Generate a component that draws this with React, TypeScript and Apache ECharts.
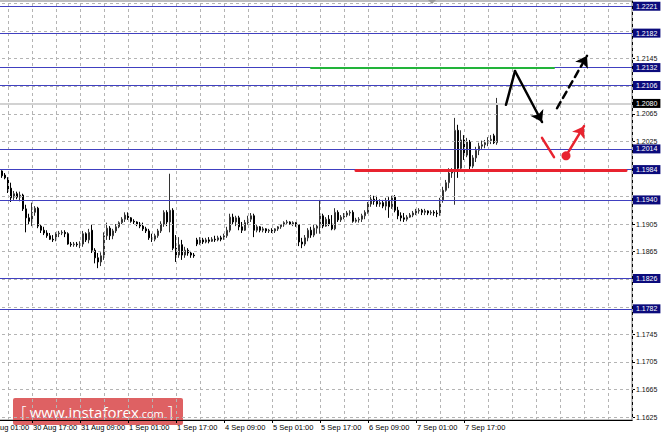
import React, { useEffect, useRef } from "react";
import * as echarts from "echarts";

// ---------- data ----------
const START_UTC = Date.UTC(2017, 7, 30, 1); // first hourly bar: 30 Aug 01:00
const CATEGORY_COUNT = 217; // bars + empty future space
const MONTHS = ["Jan", "Feb", "Mar", "Apr", "May", "Jun", "Jul", "Aug", "Sep", "Oct", "Nov", "Dec"];

const timeTickLabels = [
  "30 Aug 01:00", "30 Aug 17:00", "31 Aug 09:00", "1 Sep 01:00", "1 Sep 17:00",
  "4 Sep 09:00", "5 Sep 01:00", "5 Sep 17:00", "6 Sep 09:00", "7 Sep 01:00", "7 Sep 17:00",
];

// [open, close, low, high] – EURUSD H1
const candles: number[][] = [
  [1.1983, 1.1986, 1.1979, 1.1991], [1.1986, 1.1983, 1.1981, 1.1989], [1.1983, 1.1988, 1.1981, 1.1991],
  [1.1988, 1.1982, 1.1979, 1.1989], [1.1982, 1.1985, 1.1979, 1.1988], [1.1985, 1.1981, 1.1978, 1.1986],
  [1.1982, 1.1975, 1.1972, 1.1983], [1.1976, 1.1972, 1.1970, 1.1979], [1.1972, 1.1954, 1.1950, 1.1973],
  [1.1957, 1.1943, 1.1937, 1.1965], [1.1944, 1.1949, 1.1940, 1.1953], [1.1949, 1.1944, 1.1941, 1.1952],
  [1.1944, 1.1947, 1.1938, 1.1952], [1.1947, 1.1927, 1.1924, 1.1949], [1.1927, 1.1914, 1.1893, 1.1933],
  [1.1914, 1.1909, 1.1905, 1.1920], [1.1908, 1.1922, 1.1902, 1.1936], [1.1922, 1.1928, 1.1917, 1.1931],
  [1.1928, 1.1902, 1.1899, 1.1930], [1.1902, 1.1896, 1.1892, 1.1904], [1.1896, 1.1892, 1.1889, 1.1901],
  [1.1892, 1.1888, 1.1885, 1.1896], [1.1888, 1.1883, 1.1882, 1.1892], [1.1883, 1.1882, 1.1879, 1.1889],
  [1.1882, 1.1891, 1.1880, 1.1893], [1.1891, 1.1892, 1.1886, 1.1895], [1.1892, 1.1893, 1.1889, 1.1896],
  [1.1893, 1.1891, 1.1886, 1.1896], [1.1891, 1.1876, 1.1875, 1.1893], [1.1876, 1.1875, 1.1872, 1.1879],
  [1.1875, 1.1876, 1.1872, 1.1879], [1.1876, 1.1875, 1.1872, 1.1879], [1.1875, 1.1876, 1.1870, 1.1880],
  [1.1876, 1.1891, 1.1872, 1.1895], [1.1891, 1.1882, 1.1879, 1.1893], [1.1882, 1.1893, 1.1877, 1.1898],
  [1.1896, 1.1867, 1.1863, 1.1904], [1.1867, 1.1856, 1.1848, 1.1870], [1.1856, 1.1850, 1.1841, 1.1863],
  [1.1850, 1.1859, 1.1844, 1.1864], [1.1859, 1.1888, 1.1853, 1.1893], [1.1888, 1.1899, 1.1882, 1.1907],
  [1.1899, 1.1888, 1.1882, 1.1902], [1.1888, 1.1895, 1.1883, 1.1898], [1.1895, 1.1901, 1.1892, 1.1905],
  [1.1901, 1.1907, 1.1899, 1.1909], [1.1907, 1.1912, 1.1905, 1.1915], [1.1912, 1.1918, 1.1908, 1.1922],
  [1.1918, 1.1914, 1.1911, 1.1922], [1.1914, 1.1909, 1.1907, 1.1915], [1.1909, 1.1908, 1.1905, 1.1912],
  [1.1908, 1.1905, 1.1902, 1.1909], [1.1905, 1.1902, 1.1899, 1.1908], [1.1902, 1.1898, 1.1895, 1.1907],
  [1.1898, 1.1895, 1.1892, 1.1901], [1.1895, 1.1885, 1.1882, 1.1898], [1.1885, 1.1883, 1.1879, 1.1891],
  [1.1883, 1.1888, 1.1880, 1.1891], [1.1888, 1.1895, 1.1885, 1.1898], [1.1895, 1.1905, 1.1892, 1.1909],
  [1.1905, 1.1922, 1.1901, 1.1925], [1.1922, 1.1908, 1.1902, 1.1925], [1.1908, 1.1925, 1.1893, 1.1978],
  [1.1925, 1.1870, 1.1867, 1.1928], [1.1870, 1.1860, 1.1850, 1.1889], [1.1860, 1.1875, 1.1856, 1.1886],
  [1.1875, 1.1860, 1.1853, 1.1882], [1.1860, 1.1867, 1.1856, 1.1872], [1.1867, 1.1863, 1.1859, 1.1870],
  [1.1863, 1.1860, 1.1856, 1.1866], [1.1860, 1.1859, 1.1856, 1.1863],
  // Monday 4 Sep
  [1.1882, 1.1876, 1.1873, 1.1885], [1.1876, 1.1882, 1.1875, 1.1886], [1.1882, 1.1879, 1.1876, 1.1885],
  [1.1879, 1.1882, 1.1877, 1.1885], [1.1882, 1.1880, 1.1877, 1.1886], [1.1880, 1.1883, 1.1879, 1.1886],
  [1.1883, 1.1882, 1.1879, 1.1888], [1.1882, 1.1885, 1.1880, 1.1888], [1.1885, 1.1883, 1.1880, 1.1888],
  [1.1883, 1.1888, 1.1882, 1.1891], [1.1888, 1.1896, 1.1885, 1.1901], [1.1896, 1.1915, 1.1893, 1.1920],
  [1.1915, 1.1908, 1.1905, 1.1920], [1.1908, 1.1914, 1.1902, 1.1917], [1.1914, 1.1901, 1.1896, 1.1917],
  [1.1901, 1.1896, 1.1892, 1.1908], [1.1896, 1.1907, 1.1895, 1.1911], [1.1907, 1.1912, 1.1904, 1.1917],
  [1.1912, 1.1917, 1.1908, 1.1921], [1.1917, 1.1896, 1.1886, 1.1920], [1.1896, 1.1901, 1.1893, 1.1905],
  [1.1901, 1.1896, 1.1893, 1.1902], [1.1896, 1.1898, 1.1893, 1.1901], [1.1898, 1.1895, 1.1892, 1.1899],
  [1.1895, 1.1896, 1.1892, 1.1898], [1.1896, 1.1895, 1.1892, 1.1899], [1.1895, 1.1898, 1.1892, 1.1899],
  [1.1898, 1.1901, 1.1895, 1.1902], [1.1901, 1.1904, 1.1898, 1.1905], [1.1904, 1.1907, 1.1901, 1.1909],
  [1.1907, 1.1908, 1.1904, 1.1911], [1.1908, 1.1905, 1.1904, 1.1909], [1.1905, 1.1907, 1.1902, 1.1909],
  [1.1907, 1.1904, 1.1901, 1.1908], [1.1904, 1.1879, 1.1873, 1.1905], [1.1879, 1.1876, 1.1870, 1.1885],
  [1.1876, 1.1885, 1.1873, 1.1889], [1.1885, 1.1896, 1.1880, 1.1899], [1.1896, 1.1889, 1.1885, 1.1901],
  [1.1889, 1.1899, 1.1886, 1.1904], [1.1899, 1.1902, 1.1891, 1.1904], [1.1902, 1.1917, 1.1891, 1.1940],
  [1.1917, 1.1902, 1.1899, 1.1920], [1.1902, 1.1912, 1.1901, 1.1915], [1.1912, 1.1905, 1.1902, 1.1918],
  [1.1905, 1.1898, 1.1896, 1.1918], [1.1898, 1.1922, 1.1896, 1.1928], [1.1922, 1.1911, 1.1908, 1.1925],
  [1.1911, 1.1915, 1.1908, 1.1918], [1.1915, 1.1918, 1.1912, 1.1921], [1.1918, 1.1921, 1.1915, 1.1924],
  [1.1921, 1.1922, 1.1917, 1.1925], [1.1922, 1.1909, 1.1907, 1.1925], [1.1909, 1.1911, 1.1907, 1.1914],
  [1.1911, 1.1912, 1.1907, 1.1915], [1.1912, 1.1917, 1.1908, 1.1920], [1.1917, 1.1922, 1.1912, 1.1925],
  [1.1922, 1.1934, 1.1920, 1.1937], [1.1934, 1.1941, 1.1930, 1.1947], [1.1941, 1.1938, 1.1933, 1.1946],
  [1.1938, 1.1934, 1.1930, 1.1946], [1.1934, 1.1936, 1.1930, 1.1941], [1.1936, 1.1931, 1.1928, 1.1940],
  [1.1931, 1.1938, 1.1925, 1.1943], [1.1938, 1.1930, 1.1914, 1.1944], [1.1930, 1.1944, 1.1927, 1.1946],
  [1.1944, 1.1925, 1.1922, 1.1947], [1.1925, 1.1917, 1.1912, 1.1930], [1.1917, 1.1914, 1.1909, 1.1922],
  [1.1914, 1.1912, 1.1908, 1.1921], [1.1912, 1.1915, 1.1909, 1.1918], [1.1915, 1.1918, 1.1914, 1.1921],
  [1.1918, 1.1921, 1.1915, 1.1924], [1.1921, 1.1924, 1.1918, 1.1927], [1.1924, 1.1925, 1.1920, 1.1928],
  [1.1925, 1.1922, 1.1918, 1.1927], [1.1922, 1.1924, 1.1918, 1.1927], [1.1924, 1.1921, 1.1918, 1.1925],
  [1.1921, 1.1922, 1.1918, 1.1925], [1.1922, 1.1921, 1.1917, 1.1925], [1.1921, 1.1920, 1.1915, 1.1925],
  [1.1920, 1.1940, 1.1917, 1.1943], [1.1940, 1.1954, 1.1936, 1.1959], [1.1954, 1.1965, 1.1952, 1.1969],
  [1.1965, 1.1979, 1.1957, 1.1986], [1.1979, 1.1981, 1.1972, 1.1986], [1.1981, 1.2041, 1.1933, 1.2059],
  [1.2041, 1.1986, 1.1972, 1.2049], [1.1986, 1.2027, 1.1983, 1.2041], [1.2027, 1.2005, 1.1998, 1.2034],
  [1.2005, 1.2024, 1.2002, 1.2030], [1.2024, 1.1989, 1.1983, 1.2027], [1.1989, 1.2001, 1.1986, 1.2005],
  [1.2001, 1.2012, 1.1995, 1.2017], [1.2012, 1.2018, 1.2005, 1.2023], [1.2018, 1.2020, 1.2014, 1.2026],
  [1.2020, 1.2023, 1.2015, 1.2027], [1.2023, 1.2026, 1.2018, 1.2031], [1.2026, 1.2028, 1.2021, 1.2034],
  [1.2033, 1.2023, 1.2021, 1.2036], [1.2023, 1.2080, 1.2020, 1.2088],
];

const gridPrices = [
  1.1625, 1.1665, 1.1705, 1.1745, 1.1785, 1.1825, 1.1865, 1.1905,
  1.1945, 1.1985, 1.2025, 1.2065, 1.2105, 1.2145, 1.2185, 1.2225,
];
const labelledGridPrices = [1.1625, 1.1665, 1.1705, 1.1745, 1.1865, 1.1905, 1.2025, 1.2065, 1.2145];
const levelPrices = [1.2221, 1.2182, 1.2132, 1.2106, 1.2014, 1.1984, 1.194, 1.1826, 1.1782];
const currentPrice = 1.208;

// annotation drawings: [bar index, price]
const greenLine = [[109, 1.2132], [190, 1.2132]];
const redLine = [[124, 1.1983], [214, 1.1983]];
const blackPath = [[174, 1.2078], [177, 1.2127], [186, 1.2053]];
const blackDashed = [[191, 1.2073], [201, 1.2149]];
const redStroke = [[186, 1.203], [190, 1.2002]];
const redArrow = [[194, 1.2004], [200, 1.2047]];
const redDot = [194, 1.2004];

const Y_MIN = 1.16207;
const Y_MAX = 1.22286;
const FONT = "Liberation Sans";
const GRID_STYLE = { color: "#b4b4b4", type: [3, 3], width: 1 };

function buildCategories(): string[] {
  const out: string[] = [];
  let t = START_UTC;
  while (out.length < CATEGORY_COUNT) {
    const d = new Date(t);
    const wd = d.getUTCDay();
    if (wd !== 0 && wd !== 6) {
      const hh = String(d.getUTCHours()).padStart(2, "0");
      out.push(`${d.getUTCDate()} ${MONTHS[d.getUTCMonth()]} ${hh}:00`);
    }
    t += 3600000;
  }
  return out;
}

function segments(pts: number[][], arrowEnd: boolean) {
  const res: any[] = [];
  for (let k = 0; k < pts.length - 1; k++) {
    const last = k === pts.length - 2;
    res.push([
      { coord: pts[k], symbol: "none" },
      { coord: pts[k + 1], symbol: arrowEnd && last ? "arrow" : "none", symbolSize: 11 },
    ]);
  }
  return res;
}

function drawSeries(name: string, pts: number[][], color: string, width: number, type: any, arrow: boolean, z: number) {
  return {
    type: "line",
    name,
    data: [],
    z,
    silent: true,
    markLine: {
      silent: true,
      animation: false,
      precision: 6,
      symbol: ["none", "none"],
      label: { show: false },
      lineStyle: { color, width, type, cap: "round" },
      emphasis: { disabled: true },
      data: segments(pts, arrow),
    },
  };
}

function refLines(name: string, items: any[], lineStyle: any, z: number) {
  return {
    type: "line",
    name,
    data: [],
    z,
    silent: true,
    markLine: {
      silent: true,
      animation: false,
      precision: 6,
      symbol: ["none", "none"],
      label: { show: false },
      emphasis: { disabled: true },
      lineStyle,
      data: items,
    },
  };
}

export default function App() {
  const ref = useRef<HTMLDivElement>(null);

  useEffect(() => {
    if (!ref.current) return;
    const chart = echarts.init(ref.current, undefined, { renderer: "svg" });
    const categories = buildCategories();
    const levelSet = new Set(levelPrices.map((v) => v.toFixed(4)));
    const verticalGrid = categories
      .map((c, i) => ({ c, i }))
      .filter((o) => o.i % 8 === 0)
      .map((o) => ({ xAxis: o.c }));

    const option: any = {
      animation: false,
      textStyle: { fontFamily: FONT },
      grid: {
        left: -16,
        right: 32,
        top: 1,
        bottom: 15,
        outerBoundsMode: "none",
        containLabel: false,
        show: true,
        borderColor: "#7a7a7a",
        borderWidth: 1,
      },
      xAxis: {
        type: "category",
        data: categories,
        boundaryGap: false,
        axisLine: { show: true, lineStyle: { color: "#000", width: 1 } },
        axisTick: {
          show: true,
          length: 3,
          interval: (_i: number, v: string) => timeTickLabels.includes(v),
          lineStyle: { color: "#000" },
        },
        axisLabel: {
          interval: (_i: number, v: string) => timeTickLabels.includes(v),
          align: "left",
          margin: 3,
          fontSize: 7.5,
          fontFamily: FONT,
          color: "#000",
          padding: [0, 0, 0, 1],
        },
        splitLine: { show: false },
      },
      yAxis: {
        type: "value",
        position: "right",
        min: Y_MIN,
        max: Y_MAX,
        scale: true,
        axisLine: { show: true, lineStyle: { color: "#000", width: 1 } },
        axisTick: { show: true, length: 3, customValues: labelledGridPrices, lineStyle: { color: "#000" } },
        splitLine: { show: false },
        axisLabel: {
          customValues: [...labelledGridPrices, ...levelPrices, currentPrice],
          margin: 1,
          fontSize: 7,
          fontFamily: FONT,
          formatter: (v: number) => {
            const s = v.toFixed(4);
            if (levelSet.has(s)) return `{lv|${s}}`;
            if (s === currentPrice.toFixed(4)) return `{cur|${s}}`;
            return `{pl|${s}}`;
          },
          rich: {
            lv: { backgroundColor: "#0b0b7c", color: "#fff", padding: [1, 3, 1, 3], fontSize: 7, fontFamily: FONT },
            cur: { backgroundColor: "#000", color: "#fff", padding: [1, 3, 1, 3], fontSize: 7, fontFamily: FONT },
            pl: { color: "#111", padding: [1, 3, 1, 3], fontSize: 7, fontFamily: FONT },
          },
        },
      },
      series: [
        refLines("hgrid", gridPrices.map((v) => ({ yAxis: v })), GRID_STYLE, 1),
        refLines("vgrid", verticalGrid, GRID_STYLE, 1),
        refLines("bid", [{ yAxis: currentPrice }], { color: "#d2d2d2", type: "solid", width: 2 }, 1),
        {
          type: "candlestick",
          name: "EURUSD",
          data: candles,
          barWidth: 2,
          z: 2,
          itemStyle: {
            color: "#ffffff",
            color0: "#000000",
            borderColor: "#333333",
            borderColor0: "#000000",
            borderWidth: 1,
          },
        },
        refLines("levels", levelPrices.map((v) => ({ yAxis: v })), { color: "#4040c0", type: "solid", width: 1 }, 3),
        drawSeries("green", greenLine, "#22b43a", 2, "solid", false, 4),
        drawSeries("red", redLine, "#e8232f", 3, "solid", false, 4),
        drawSeries("blackPath", blackPath, "#000000", 2.5, "solid", true, 5),
        drawSeries("blackDashed", blackDashed, "#000000", 2.5, [7, 5], true, 5),
        drawSeries("redStroke", redStroke, "#e8232f", 2.5, "solid", false, 5),
        drawSeries("redArrow", redArrow, "#e8232f", 2.5, "solid", true, 5),
        {
          type: "line",
          name: "dot",
          data: [],
          z: 5,
          silent: true,
          markPoint: {
            silent: true,
            symbol: "circle",
            symbolSize: 9,
            label: { show: false },
            itemStyle: { color: "#e8232f" },
            data: [{ coord: redDot }],
          },
        },
      ],
      graphic: [
        {
          type: "polygon",
          z: 50,
          silent: true,
          shape: { points: [[428, 0], [436, 0], [432, 4]] },
          style: { fill: "#9a9a9a" },
        },
        {
          type: "group",
          z: 100,
          silent: true,
          children: [
            {
              type: "rect",
              shape: { x: 13, y: 398, width: 170, height: 27, r: 2 },
              style: { fill: "rgba(218, 80, 82, 0.9)" },
            },
            {
              type: "text",
              style: {
                x: 21,
                y: 411.5,
                verticalAlign: "middle",
                text: "{b|[} {m|www.instaforex}{s|.com}{e|]}",
                rich: {
                  b: { fontSize: 17, fill: "#ffffff", fontFamily: "Open Sans", fontWeight: 300 },
                  e: { fontSize: 17, fill: "#ffffff", fontFamily: "Open Sans", fontWeight: 300, padding: [0, 0, 0, 4] },
                  m: { fontSize: 15, fill: "#ffffff", fontFamily: "Open Sans" },
                  s: { fontSize: 11, fill: "#ffffff", fontFamily: "Open Sans", padding: [3, 0, 0, 0] },
                },
              },
            },
          ],
        },
      ],
    };

    chart.setOption(option);
    return () => chart.dispose();
  }, []);

  return (
    <div
      ref={ref}
      style={{ position: "absolute", left: 0, top: 0, width: 664, height: 435, background: "#fff" }}
    />
  );
}
